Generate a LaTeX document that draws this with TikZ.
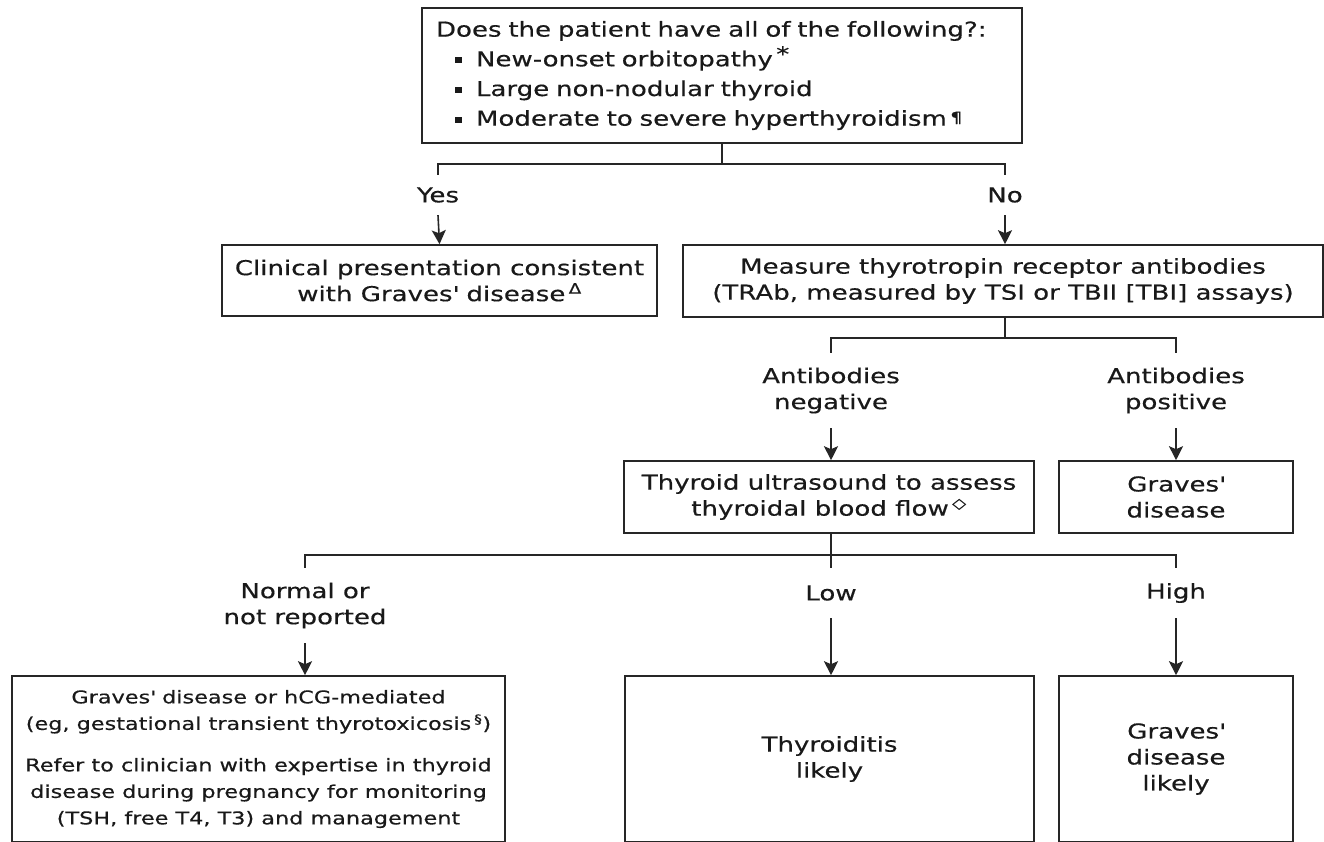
\documentclass[tikz,border=0pt]{standalone}
\usepackage{fontspec}
\setmainfont{DejaVu Sans}[FakeStretch=1.27, FakeBold=0.4]
\usetikzlibrary{arrows.meta}
\newcommand{\ap}{\textquotesingle}
\newcommand{\blt}{\hspace*{19pt}\rule[3pt]{7pt}{6pt}\hspace{14pt}}
\begin{document}
\begin{tikzpicture}[x=1pt,y=-1pt,
  every node/.style={font=\fontsize{20.5}{26}\selectfont, text=black!90},
  box/.style={draw=black!85, line width=1.6pt, inner sep=0pt, align=center},
  lbl/.style={inner sep=0pt, align=center},
  conn/.style={draw=black!85, line width=1.6pt},
  arr/.style={conn, -{Stealth[length=14pt,width=14pt,inset=3pt]}}]
\clip (0,0) rectangle (1324,841);
\fill[white] (0,0) rectangle (1324,841);
% boxes
\node[box, inner xsep=14pt, text width=572pt, minimum height=135pt, align=left,
      font=\fontsize{20.5}{29.7}\selectfont] (top) at (722,75.5)
 {Does the patient have all of the following?:\\
  \blt New-onset orbitopathy\,\raisebox{5pt}{*}\\
  \blt Large non-nodular thyroid\\
  \blt Moderate to severe hyperthyroidism\,{\fontsize{15}{15}\selectfont\raisebox{3pt}{¶}}};
\node[box, minimum width=435pt, minimum height=71pt] (clin) at (439.5,280.5)
 {Clinical presentation consistent\\with Graves\ap{} disease\,\textsuperscript{Δ}};
\node[box, minimum width=640pt, minimum height=72pt] (meas) at (1003,281)
 {Measure thyrotropin receptor antibodies\\(TRAb, measured by TSI or TBII [TBI] assays)};
\node[box, minimum width=410pt, minimum height=72pt] (us) at (829,497)
 {Thyroid ultrasound to assess\\thyroidal blood flow\,\textsuperscript{◇}};
\node[box, minimum width=234pt, minimum height=72pt] (gr) at (1176,497)
 {Graves\ap\\disease};
\node[box, minimum width=493pt, minimum height=166pt,
      font=\fontsize{17.6}{26.5}\selectfont] (b1) at (258.5,759)
 {Graves\ap{} disease or hCG-mediated\\(eg, gestational transient thyrotoxicosis\,\textsuperscript{§})\\[15pt]
  Refer to clinician with expertise in thyroid\\disease during pregnancy for monitoring\\(TSH, free T4, T3) and management};
\node[box, minimum width=409pt, minimum height=166pt] (b2) at (829.5,759)
 {Thyroiditis\\likely};
\node[box, minimum width=234pt, minimum height=166pt] (b3) at (1176,759)
 {Graves\ap\\disease\\likely};
% labels
\node[lbl, minimum height=40pt] (yesL) at (438,195) {Yes};
\node[lbl, minimum height=40pt] (noL) at (1005,195) {No};
\node[lbl, minimum height=75pt] (negL) at (831,390.5) {Antibodies\\negative};
\node[lbl, minimum height=75pt] (posL) at (1176,390.5) {Antibodies\\positive};
\node[lbl, minimum height=75pt] (normL) at (305,605.5) {Normal or\\not reported};
\node[lbl, minimum height=50pt] (lowL) at (831,593) {Low};
\node[lbl, minimum height=50pt] (highL) at (1176,593) {High};
% junctions
\coordinate (j1) at (722,164);
\coordinate (j2) at (1005,338);
\coordinate (j3) at (831,555);
% connectors
\draw[conn] (top.south -| j1) -- (j1);
\draw[conn] (yesL.north) -- (yesL.north |- j1) -- (noL.north |- j1) -- (noL.north);
\draw[arr] (yesL.south) -- (clin.north);
\draw[arr] (noL.south) -- (meas.north -| noL.south);
\draw[conn] (meas.south -| j2) -- (j2);
\draw[conn] (negL.north) -- (negL.north |- j2) -- (posL.north |- j2) -- (posL.north);
\draw[arr] (negL.south) -- (us.north -| negL.south);
\draw[arr] (posL.south) -- (gr.north);
\draw[conn] (us.south -| j3) -- (j3);
\draw[conn] (normL.north) -- (normL.north |- j3) -- (highL.north |- j3) -- (highL.north);
\draw[conn] (lowL.north |- j3) -- (lowL.north);
\draw[arr] (normL.south) -- (b1.north -| normL.south);
\draw[arr] (lowL.south) -- (b2.north -| lowL.south);
\draw[arr] (highL.south) -- (b3.north);
\end{tikzpicture}
\end{document}
